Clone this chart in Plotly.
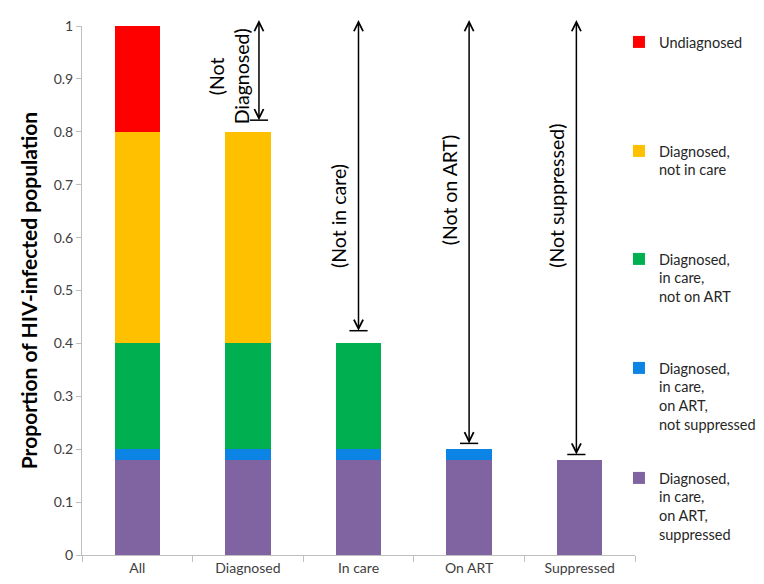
import plotly.graph_objects as go

categories = ["All", "Diagnosed", "In care", "On ART", "Suppressed"]

series_names = [
    "Diagnosed,<br>in care,<br>on ART,<br>suppressed",
    "Diagnosed,<br>in care,<br>on ART,<br>not suppressed",
    "Diagnosed,<br>in care,<br>not on ART",
    "Diagnosed,<br>not in care",
    "Undiagnosed",
]
suppressed = [0.18, 0.18, 0.18, 0.18, 0.18]
not_suppressed = [0.02, 0.02, 0.02, 0.02, 0.0]
not_on_art = [0.20, 0.20, 0.20, 0.0, 0.0]
not_in_care = [0.40, 0.40, 0.0, 0.0, 0.0]
undiagnosed = [0.20, 0.0, 0.0, 0.0, 0.0]
series_values = [suppressed, not_suppressed, not_on_art, not_in_care, undiagnosed]
colors = ["#8064A2", "#0B84E6", "#00B050", "#FFC000", "#FF0000"]

gap_labels = ["(Not<br>Diagnosed)", "(Not in care)", "(Not on ART)", "(Not suppressed)"]
gap_cats = [1, 2, 3, 4]
arrow_offsets = [0.1, 0.0, 0.0, -0.03]
arrow_pads = [0.022, 0.024, 0.011, 0.01]
label_offsets = [-0.17, -0.18, -0.17, -0.21]
label_y = [0.905, 0.64, 0.69, 0.68]

FONT = "Lato, Open Sans, sans-serif"

fig = go.Figure()
legend_ids = ["legend5", "legend4", "legend3", "legend2", "legend"]
x_idx = list(range(len(categories)))
for name, vals, col, lg in zip(series_names, series_values, colors, legend_ids):
    fig.add_trace(go.Bar(x=x_idx, y=vals, name=name, marker=dict(color=col, line=dict(width=0)),
                         width=0.41, legend=lg, hoverinfo="name+y"))

totals = [sum(v[i] for v in series_values) for i in range(len(categories))]
top_val = 1.014
ax_x, ax_lo = [], []
for k, ci in enumerate(gap_cats):
    xa = ci + arrow_offsets[k]
    lo = totals[ci] + arrow_pads[k]
    ax_x += [xa, xa]
    ax_lo += [lo, top_val]
    fig.add_annotation(x=xa, y=lo, ax=xa, ay=top_val, xref="x", yref="y", axref="x", ayref="y",
                       showarrow=True, arrowhead=5, startarrowhead=5, arrowside="end+start",
                       arrowsize=1.2, startarrowsize=1.2, arrowwidth=1.5, arrowcolor="#000000", text="")
    fig.add_annotation(x=ci + label_offsets[k], y=label_y[k], xref="x", yref="y", text=gap_labels[k],
                       showarrow=False, textangle=-90, font=dict(family=FONT, size=19.5, color="#000000"))

fig.add_trace(go.Scatter(x=ax_x, y=ax_lo, mode="markers", showlegend=False, hoverinfo="skip", cliponaxis=False,
                         marker=dict(symbol="line-ew-open", size=13, color="#000000",
                                     line=dict(width=1.5, color="#000000"))))

leg_tops = [18, 127, 235, 344, 454]  # px from top for legend1..5 (Undiagnosed first)
plot_top, plot_bot = 18.0, 547.0
leg_ids_order = ["legend", "legend2", "legend3", "legend4", "legend5"]
layout_leg = {}
for lid, tp in zip(leg_ids_order, leg_tops):
    layout_leg[lid] = dict(x=0.971, xanchor="left", y=(plot_bot - tp) / (plot_bot - plot_top), yanchor="top",
                           valign="top", bgcolor="rgba(0,0,0,0)",
                           font=dict(family=FONT, size=14.5, color="#262626"))

fig.update_layout(
    width=764, height=584,
    margin=dict(l=74, r=137, t=18, b=37, autoexpand=False),
    barmode="stack", bargap=0,
    plot_bgcolor="white", paper_bgcolor="white",
    font=dict(family=FONT, size=14, color="#404040"),
    xaxis=dict(range=[-0.5, 4.5], tickmode="array", tickvals=x_idx, ticktext=categories,
               ticks="", showline=True, linecolor="#BFBFBF", linewidth=1, showgrid=False, zeroline=False,
               tickfont=dict(size=14, color="#404040"),
               minor=dict(tickmode="linear", tick0=-0.5, dtick=1, ticks="outside", ticklen=6,
                          tickcolor="#BFBFBF", showgrid=False)),
    yaxis=dict(range=[0, 1], dtick=0.1, ticks="outside", ticklen=5, tickcolor="#BFBFBF",
               showline=True, linecolor="#BFBFBF", linewidth=1, showgrid=False, zeroline=False,
               tickfont=dict(size=14, color="#404040"),
               title=dict(text="<b>Proportion of HIV-infected population</b>",
                          font=dict(size=21, color="#000000"), standoff=10)),
    **layout_leg,
)

fig.write_html("out.html")
